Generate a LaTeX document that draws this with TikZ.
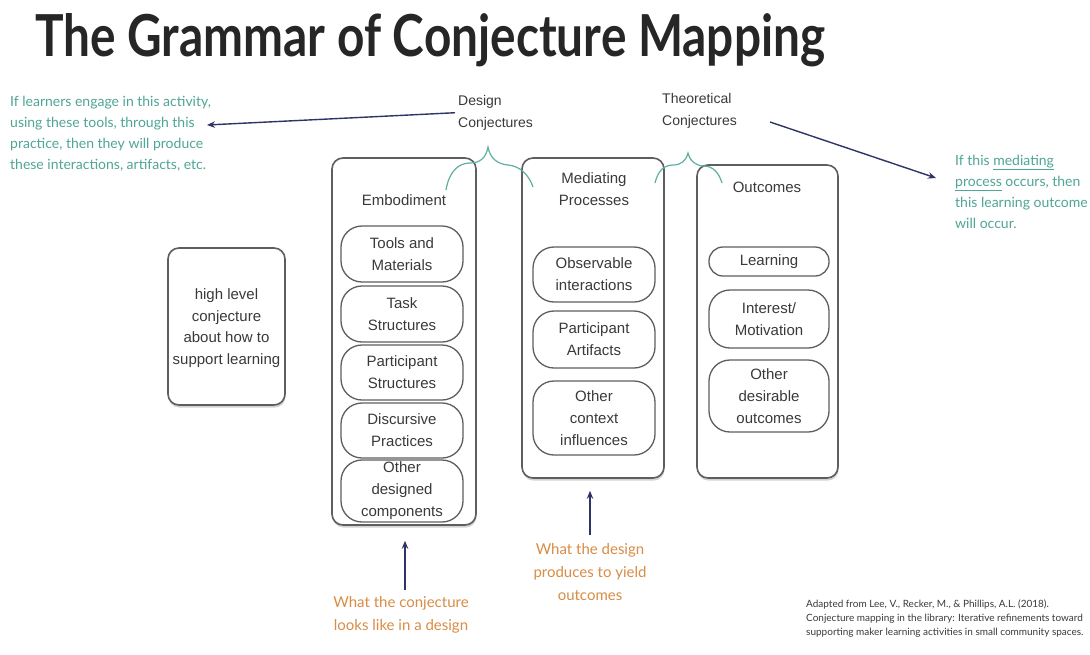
\documentclass[tikz,border=0pt]{standalone}
\usepackage{fontspec}
\usepackage{graphicx}
\setmainfont{Liberation Sans}
\newfontfamily\latof{Lato}
\usetikzlibrary{shadows,arrows.meta}
\definecolor{tealtxt}{HTML}{4FA596}
\definecolor{tealbr}{HTML}{5FAFA2}
\definecolor{orng}{HTML}{D98C45}
\definecolor{navy}{HTML}{2E3566}
\definecolor{boxgray}{HTML}{5E5E5E}
\definecolor{txtgray}{HTML}{3A3A3A}
\definecolor{titlegray}{HTML}{262626}
\tikzset{
  bigbox/.style={draw=boxgray, line width=1.6pt, rounded corners=11pt, fill=white,
    drop shadow={shadow xshift=0.6pt, shadow yshift=-2.6pt, opacity=0.35}, inner sep=0pt},
  pill/.style={draw=boxgray, line width=1.3pt, rounded corners=21pt, fill=white, align=center,
    font=\fontsize{15}{22}\selectfont, text=txtgray, inner sep=0pt, minimum width=122pt},
  lbl/.style={font=\fontsize{15}{22}\selectfont, text=txtgray, align=center, inner sep=0pt},
  conj/.style={font=\fontsize{14}{22}\selectfont, text=txtgray, align=left, inner sep=0pt, anchor=north west},
  tealnote/.style={font=\latof\fontsize{14}{21}\selectfont, text=tealtxt, align=left, inner sep=0pt, anchor=north west},
  orngnote/.style={font=\latof\fontsize{15}{23}\selectfont, text=orng, align=center, inner sep=0pt},
  navarrow/.style={draw=navy, line width=1.4pt, -{Stealth[length=8pt,width=6.5pt]}},
  bracestyle/.style={draw=tealbr, line width=1.2pt},
}
\begin{document}
\begin{tikzpicture}[x=1pt,y=-1pt]
\useasboundingbox[fill=white] (0,0) rectangle (1090,654);

% title
\node[anchor=base west, inner sep=0pt, text=titlegray] (title) at (35,56)
  {\resizebox{790pt}{43pt}{\latof\bfseries The Grammar of Conjecture Mapping}};

% notes
\node[tealnote] (lt) at (10,96) {If learners engage in this activity,\\using these tools, through this\\practice, then they will produce\\these interactions, artifacts, etc.};
\node[tealnote] (rt) at (955,155) {If this \underline{mediating}\\\underline{process} occurs, then\\this learning outcome\\will occur.};

\node[conj] (dc) at (458,95) {Design\\Conjectures};
\node[conj] (tc) at (662,93) {Theoretical\\Conjectures};

% left box
\node[bigbox, minimum width=117pt, minimum height=157pt] (hl) at (226.5,326.5) {};
\node[lbl, font=\fontsize{15}{21.5}\selectfont] (hltxt) at (226.5,328) {high level\\conjecture\\about how to\\support learning};

% Embodiment column
\node[bigbox, minimum width=144pt, minimum height=367pt] (emb) at (404,341.5) {};
\node[lbl] (embl) at (404,200) {Embodiment};
\node[pill, minimum height=56pt] (e1) at (402,254) {Tools and\\Materials};
\node[pill, minimum height=56pt] (e2) at (402,314) {Task\\Structures};
\node[pill, minimum height=55pt] (e3) at (402,372.5) {Participant\\Structures};
\node[pill, minimum height=55pt] (e4) at (402,430.5) {Discursive\\Practices};
\node[pill, minimum height=62pt] (e5) at (402,491) {Other\\designed\\components};

% Mediating column
\node[bigbox, minimum width=142pt, minimum height=320pt] (med) at (593,318) {};
\node[lbl] (medl) at (594,189) {Mediating\\Processes};
\node[pill, minimum height=55pt] (m1) at (594,274.5) {Observable\\interactions};
\node[pill, minimum height=57pt] (m2) at (594,339.5) {Participant\\Artifacts};
\node[pill, minimum height=74pt] (m3) at (594,418) {Other\\context\\influences};

% Outcomes column
\node[bigbox, minimum width=141pt, minimum height=313pt] (out) at (767.5,321.5) {};
\node[lbl] (outl) at (767,187) {Outcomes};
\node[pill, minimum width=120pt, minimum height=29pt, rounded corners=14pt] (o1) at (769,261.5) {Learning};
\node[pill, minimum width=120pt, minimum height=58pt] (o2) at (769,319) {Interest/\\Motivation};
\node[pill, minimum width=120pt, minimum height=72pt] (o3) at (769,396) {Other\\desirable\\outcomes};

% braces
\draw[bracestyle] (446,190) .. controls (449,172) and (458,163) .. (470,163)
  .. controls (480,163) and (486,158) .. (488,147)
  .. controls (490,158) and (497,164) .. (508,165)
  .. controls (520,166) and (529,175) .. (533,187);
\draw[bracestyle] (655,183) .. controls (658,170) and (665,165) .. (673,165)
  .. controls (681,165) and (686,161) .. (688,153)
  .. controls (690,161) and (696,166) .. (704,166)
  .. controls (713,166) and (719,173) .. (722,183);

% top arrows
\coordinate (a1e) at (207,125);
\draw[navarrow] ([xshift=-3pt]dc.west) -- (a1e);
\coordinate (a2s) at (770,122);
\coordinate (a2e) at (936,178);
\draw[navarrow] (a2s) -- (a2e);

% bottom notes
\node[orngnote] (b1) at (401,615) {What the conjecture\\looks like in a design};
\node[orngnote] (b2) at (590,572) {What the design\\produces to yield\\outcomes};
\coordinate (b1s) at (405,590);
\coordinate (b2s) at (590,535);
\draw[navarrow] (b1s) -- ([yshift=-15pt]b1s |- emb.south);
\draw[navarrow] (b2s) -- ([yshift=-12pt]b2s |- med.south);

% citation
\node[anchor=north west, inner sep=0pt, align=left, text=txtgray,
  font=\latof\fontsize{10}{14}\selectfont] (cite) at (806,600)
  {Adapted from Lee, V., Recker, M., \& Phillips, A.L. (2018).\\Conjecture mapping in the library: Iterative refinements toward\\supporting maker learning activities in small community spaces.};
\end{tikzpicture}
\end{document}
